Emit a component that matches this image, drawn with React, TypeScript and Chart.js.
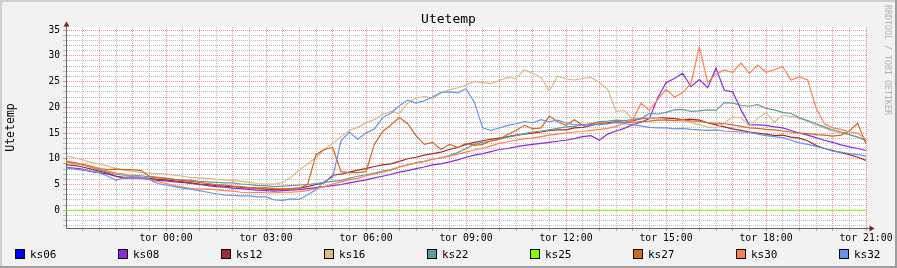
import React, { useEffect, useRef } from 'react';
import { Chart, registerables } from 'chart.js';

Chart.register(...registerables);

// ---- texts ----
const chartTitle = 'Utetemp';
const yAxisTitle = 'Utetemp';
const watermark = 'RRDTOOL / TOBI OETIKER';

// ---- series ----
const seriesNames = ['ks06', 'ks08', 'ks12', 'ks16', 'ks22', 'ks25', 'ks27', 'ks30', 'ks32'];
const seriesColors = ['#0000FF', '#8A2BE2', '#A52A2A', '#DEB887', '#5F9EA0', '#7FFF00', '#D2691E', '#FF7F50', '#6495ED'];

// samples every 15 minutes, starting ons 21:00 (hour 0) up to tor 21:00 (hour 24)
const sampleStepHours = 0.25;
const xMinHours = 0;
const xMaxHours = 24;
const xLabelHours = [3, 6, 9, 12, 15, 18, 21, 24];
const xLabelTexts = ['tor 00:00', 'tor 03:00', 'tor 06:00', 'tor 09:00', 'tor 12:00', 'tor 15:00', 'tor 18:00', 'tor 21:00'];
const yMin = -3.45;
const yMax = 35.6;
const yLabelValues = [0, 5, 10, 15, 20, 25, 30, 35];

const ks06: number[] = [];
const ks08 = [
  8.3, 8.2, 8.0, 7.5, 7.3, 7.0, 6.6, 6.2, 6.3, 6.2,
  6.0, 5.8, 5.7, 5.5, 5.4, 5.2, 5.0, 4.8, 4.6, 4.5,
  4.3, 4.2, 4.0, 3.9, 3.8, 3.7, 3.8, 3.9, 4.0, 4.2,
  4.4, 4.6, 4.8, 5.0, 5.3, 5.6, 5.9, 6.3, 6.6, 7.0,
  7.4, 7.7, 8.1, 8.4, 8.8, 9.0, 9.4, 9.8, 10.3, 10.7,
  11.0, 11.4, 11.8, 12.0, 12.3, 12.6, 12.8, 13.0, 13.2, 13.4,
  13.6, 13.9, 14.3, 14.5, 13.6, 14.8, 15.4, 15.9, 16.6, 17.1,
  17.8, 21.8, 24.8, 25.6, 26.6, 24.0, 25.4, 23.8, 27.6, 23.3,
  23.0, 19.5, 16.6, 16.6, 16.5, 16.2, 16.0, 15.5, 15.0, 14.6,
  14.1, 13.6, 13.2, 12.7, 12.3, 12.0, 11.6,
];
const ks12 = [
  8.8, 8.7, 8.4, 8.0, 7.6, 7.2, 6.6, 6.4, 6.5, 6.4,
  6.2, 6.0, 5.9, 5.7, 5.5, 5.3, 5.1, 5.0, 4.8, 4.7,
  4.6, 4.5, 4.3, 4.3, 4.1, 4.0, 4.1, 4.2, 4.3, 4.6,
  5.0, 5.3, 6.8, 7.0, 7.4, 7.8, 8.1, 8.5, 8.8, 9.0,
  9.5, 10.0, 10.3, 10.7, 11.0, 11.3, 11.8, 12.2, 12.8, 13.2,
  13.5, 13.8, 14.0, 14.3, 14.6, 14.8, 15.0, 15.2, 15.5, 15.6,
  15.6, 16.0, 16.1, 16.5, 16.8, 17.0, 17.2, 17.1, 17.4, 17.8,
  17.9, 18.0, 17.9, 17.8, 17.6, 17.7, 17.5, 17.0, 16.6, 16.2,
  15.8, 15.5, 15.2, 15.0, 14.8, 14.5, 14.6, 14.2, 14.0, 13.5,
  12.6, 12.0, 11.6, 11.2, 10.8, 10.3, 9.7,
];
const ks16 = [
  10.6, 10.2, 9.8, 9.3, 9.0, 8.6, 8.1, 7.8, 7.6, 7.3,
  7.2, 7.1, 7.0, 6.8, 6.6, 6.4, 6.3, 6.2, 6.0, 5.9,
  5.8, 5.6, 5.4, 5.2, 5.1, 5.1, 5.4, 6.4, 7.8, 9.0,
  10.3, 11.8, 13.0, 14.3, 15.5, 16.1, 17.0, 17.6, 18.6, 19.2,
  18.8, 20.8, 21.8, 22.1, 21.8, 22.8, 23.4, 23.8, 24.3, 25.0,
  24.8, 24.6, 25.2, 25.8, 25.6, 27.3, 26.6, 25.8, 23.2, 26.1,
  25.5, 25.3, 25.6, 25.8, 24.8, 23.5, 19.2, 19.4, 17.6, 18.0,
  17.9, 18.0, 17.6, 17.4, 17.3, 17.0, 16.6, 16.2, 16.0, 17.0,
  18.1, 18.0, 16.4, 17.8, 19.0, 17.1, 18.5, 18.2, 17.9, 17.3,
  16.5, 16.0, 15.3, 15.0, 14.7, 14.2, 13.6,
];
const ks22 = [
  9.4, 9.1, 8.8, 8.3, 7.8, 7.4, 7.0, 6.8, 6.8, 6.7,
  6.5, 6.3, 6.2, 6.0, 5.9, 5.8, 5.6, 5.5, 5.4, 5.3,
  5.3, 5.1, 5.0, 4.8, 4.8, 4.6, 4.7, 4.8, 4.9, 5.0,
  5.2, 5.4, 5.6, 5.8, 6.2, 6.6, 6.9, 7.2, 7.6, 7.9,
  8.4, 8.8, 9.2, 9.5, 9.9, 10.2, 10.6, 11.2, 12.0, 12.8,
  13.2, 13.4, 13.8, 14.2, 14.5, 14.9, 15.2, 15.4, 15.6, 15.9,
  16.2, 16.3, 16.6, 16.8, 17.2, 17.3, 17.5, 17.4, 17.6, 17.8,
  18.8, 18.7, 19.0, 19.5, 19.6, 19.2, 19.3, 19.5, 19.4, 20.9,
  20.8, 20.4, 20.2, 20.5, 19.8, 19.5, 19.0, 18.8, 18.0, 17.4,
  16.8, 16.2, 15.6, 15.2, 14.7, 14.2, 13.5,
];
const ks25 = [
  0, 0, 0, 0, 0, 0, 0, 0, 0, 0,
  0, 0, 0, 0, 0, 0, 0, 0, 0, 0,
  0, 0, 0, 0, 0, 0, 0, 0, 0, 0,
  0, 0, 0, 0, 0, 0, 0, 0, 0, 0,
  0, 0, 0, 0, 0, 0, 0, 0, 0, 0,
  0, 0, 0, 0, 0, 0, 0, 0, 0, 0,
  0, 0, 0, 0, 0, 0, 0, 0, 0, 0,
  0, 0, 0, 0, 0, 0, 0, 0, 0, 0,
  0, 0, 0, 0, 0, 0, 0, 0, 0, 0,
  0, 0, 0, 0, 0, 0, 0,
];
const ks27 = [
  9.4, 9.2, 8.9, 8.6, 8.1, 7.9, 8.0, 7.9, 7.9, 7.7,
  6.6, 6.4, 6.2, 6.0, 5.8, 5.6, 5.4, 5.2, 5.0, 4.9,
  4.7, 4.6, 4.4, 4.3, 4.4, 4.2, 4.1, 4.2, 4.3, 5.0,
  10.8, 11.8, 12.2, 7.5, 7.3, 7.3, 7.5, 12.8, 15.3, 16.6,
  18.0, 16.8, 14.5, 12.8, 13.2, 11.8, 12.8, 12.2, 13.0, 12.6,
  12.8, 13.5, 13.8, 14.7, 15.5, 16.5, 15.8, 16.0, 18.3, 17.2,
  16.5, 17.6, 16.5, 16.8, 17.0, 16.8, 17.2, 17.0, 17.1, 17.2,
  17.3, 17.5, 17.5, 17.4, 17.6, 17.3, 17.3, 17.0, 16.9, 16.8,
  16.6, 16.3, 16.0, 15.9, 15.7, 15.6, 15.4, 15.2, 15.0, 14.9,
  14.7, 14.6, 14.4, 14.6, 15.4, 16.9, 12.8,
];
const ks30 = [
  9.6, 9.3, 8.8, 8.4, 8.0, 7.6, 7.2, 7.0, 6.6, 6.4,
  6.0, 5.6, 5.2, 4.8, 4.5, 4.2, 4.1, 4.1, 4.0, 3.8,
  3.7, 3.5, 3.4, 3.5, 3.4, 3.4, 3.5, 3.5, 3.6, 3.8,
  4.2, 4.6, 5.1, 5.5, 5.9, 6.2, 6.7, 7.0, 7.4, 7.8,
  8.4, 8.8, 9.2, 9.5, 9.9, 10.2, 10.5, 10.9, 11.3, 11.7,
  12.0, 12.5, 13.0, 13.3, 13.6, 13.9, 14.0, 14.3, 14.6, 14.8,
  15.0, 15.2, 15.3, 15.5, 15.7, 15.9, 16.3, 16.9, 17.5, 20.8,
  19.4, 21.5, 23.5, 22.0, 22.8, 24.7, 31.8, 24.8, 26.5, 27.2,
  26.8, 28.6, 26.6, 28.2, 26.8, 27.3, 27.9, 25.3, 25.9, 25.3,
  19.9, 16.8, 16.0, 15.7, 15.2, 15.0, 13.8,
];
const ks32 = [
  8.2, 8.0, 7.8, 7.6, 7.3, 6.6, 5.8, 6.3, 6.4, 6.3,
  6.0, 5.2, 4.9, 4.6, 4.3, 4.1, 3.8, 3.5, 3.2, 3.0,
  2.9, 2.8, 2.8, 2.6, 2.6, 2.0, 1.9, 2.2, 2.1, 3.0,
  4.0, 5.6, 6.4, 13.5, 15.2, 13.8, 15.0, 15.8, 18.0, 18.9,
  20.3, 21.4, 20.8, 21.3, 22.0, 22.9, 23.0, 22.8, 23.6, 21.0,
  16.0, 15.5, 16.0, 16.5, 16.8, 17.2, 17.0, 17.6, 17.2, 17.5,
  17.0, 16.6, 16.6, 16.7, 16.6, 16.8, 17.0, 16.9, 16.6, 16.4,
  16.1, 16.0, 16.0, 15.8, 15.9, 15.7, 15.6, 15.5, 15.6, 15.4,
  15.3, 15.2, 15.1, 14.8, 14.5, 14.3, 14.1, 13.6, 13.1, 12.8,
  12.4, 12.0, 11.5, 11.3, 11.0, 10.8, 10.5,
];
const seriesValues = [ks06, ks08, ks12, ks16, ks22, ks25, ks27, ks30, ks32];

// ---- styles ----
const FONT = '"DejaVu Sans Mono", "Liberation Mono", monospace';
const MINOR = 'rgba(143,143,143,0.6)';
const MAJOR = 'rgba(222,79,79,0.6)';
const NONE = 'rgba(0,0,0,0)';

const xGrid: number[] = [];
for (let h = xMinHours; h <= xMaxHours + 1e-9; h += 0.5) xGrid.push(h);
const yGrid: number[] = [];
for (let v = Math.ceil(yMin); v <= Math.floor(yMax); v += 1) yGrid.push(v);

const rrdPlugin = {
  id: 'rrdFrame',
  beforeDraw(chart: any) {
    const { ctx, chartArea: a, width, height } = chart;
    ctx.save();
    ctx.fillStyle = '#F2F2F2';
    ctx.fillRect(0, 0, width, height);
    ctx.fillStyle = '#FFFFFF';
    ctx.fillRect(a.left, a.top, a.right - a.left, a.bottom - a.top);
    ctx.restore();
  },
  afterDraw(chart: any) {
    const { ctx, chartArea: a, width, height } = chart;
    ctx.save();
    // frame shading
    ctx.fillStyle = '#CFCFCF';
    ctx.fillRect(0, 0, width, 2);
    ctx.fillRect(0, 0, 2, height);
    ctx.fillStyle = '#9E9E9E';
    ctx.fillRect(0, height - 2, width, 2);
    ctx.fillRect(width - 2, 0, 2, height);

    // axis extensions and arrows
    ctx.strokeStyle = '#666666';
    ctx.lineWidth = 1;
    ctx.beginPath();
    ctx.moveTo(a.left + 0.5, a.top);
    ctx.lineTo(a.left + 0.5, a.top - 1);
    ctx.moveTo(a.right, a.bottom + 0.5);
    ctx.lineTo(a.right + 4, a.bottom + 0.5);
    ctx.stroke();
    ctx.fillStyle = '#801F1F';
    ctx.beginPath();
    ctx.moveTo(a.left + 0.5, a.top - 5.5);
    ctx.lineTo(a.left - 2.5, a.top - 0.5);
    ctx.lineTo(a.left + 3.5, a.top - 0.5);
    ctx.closePath();
    ctx.fill();
    ctx.beginPath();
    ctx.moveTo(a.right + 8.5, a.bottom + 0.5);
    ctx.lineTo(a.right + 3.5, a.bottom - 2.5);
    ctx.lineTo(a.right + 3.5, a.bottom + 3.5);
    ctx.closePath();
    ctx.fill();

    // title
    ctx.fillStyle = '#000000';
    ctx.font = `13px ${FONT}`;
    ctx.textAlign = 'center';
    ctx.textBaseline = 'alphabetic';
    ctx.fillText(chartTitle, width / 2, 23);

    // y axis title
    ctx.save();
    ctx.translate(11, (a.top + a.bottom) / 2);
    ctx.rotate(-Math.PI / 2);
    ctx.font = `11.5px ${FONT}`;
    ctx.textAlign = 'center';
    ctx.textBaseline = 'middle';
    ctx.fillText(yAxisTitle, 0, 0);
    ctx.restore();

    // watermark
    ctx.save();
    ctx.translate(887.5, 5);
    ctx.rotate(Math.PI / 2);
    ctx.font = `8.3px ${FONT}`;
    ctx.fillStyle = '#B0B0B0';
    ctx.textAlign = 'left';
    ctx.textBaseline = 'middle';
    ctx.fillText(watermark, 0, 0);
    ctx.restore();

    // legend
    ctx.font = `11px ${FONT}`;
    ctx.textAlign = 'left';
    ctx.textBaseline = 'alphabetic';
    chart.data.datasets.forEach((ds: any, i: number) => {
      const x = 15 + 103 * i;
      ctx.fillStyle = ds.borderColor;
      ctx.fillRect(x, 249, 10, 10);
      ctx.strokeStyle = '#000000';
      ctx.lineWidth = 1;
      ctx.strokeRect(x + 0.5, 249.5, 9, 9);
      ctx.fillStyle = '#000000';
      ctx.fillText(ds.label, x + 15, 258);
    });
    ctx.restore();
  },
};

export default function App() {
  const ref = useRef<HTMLCanvasElement>(null);
  useEffect(() => {
    if (!ref.current) return;
    const chart = new Chart(ref.current, {
      type: 'line',
      data: {
        datasets: seriesNames.map((name, k) => ({
          label: name,
          data: seriesValues[k].map((v, i) => ({ x: xMinHours + i * sampleStepHours, y: v })),
          borderColor: seriesColors[k],
          backgroundColor: seriesColors[k],
          borderWidth: 1.2,
          pointRadius: 0,
          tension: 0,
          fill: false,
          order: seriesNames.length - k,
        })),
      },
      options: {
        animation: false,
        responsive: false,
        maintainAspectRatio: false,
        devicePixelRatio: 1,
        events: [],
        layout: { padding: { top: 27, right: 31, left: 0, bottom: 0 } },
        plugins: {
          legend: { display: false },
          title: { display: false },
          tooltip: { enabled: false },
        },
        scales: {
          x: {
            type: 'linear',
            min: xMinHours,
            max: xMaxHours,
            afterBuildTicks: (s: any) => {
              s.ticks = xGrid.map((v) => ({ value: v }));
            },
            afterFit: (s: any) => {
              s.height = 40;
            },
            ticks: {
              autoSkip: false,
              maxRotation: 0,
              minRotation: 0,
              padding: 1.5,
              color: '#000000',
              font: { family: FONT, size: 9.8 },
              callback: (v: any) => {
                const k = xLabelHours.indexOf(Number(v));
                return k >= 0 ? xLabelTexts[k] : '';
              },
            },
            grid: {
              color: (c: any) => {
                const v = c.tick ? c.tick.value : undefined;
                if (v === undefined || v <= 0) return NONE;
                return Number.isInteger(v) ? MAJOR : MINOR;
              },
              tickColor: (c: any) => {
                const v = c.tick ? c.tick.value : undefined;
                if (v === undefined || v <= 0) return NONE;
                return Number.isInteger(v) ? MAJOR : MINOR;
              },
              tickLength: 3,
              lineWidth: 1,
            },
            border: { display: true, color: '#666666', width: 1, dash: [1, 1] },
          },
          y: {
            type: 'linear',
            min: yMin,
            max: yMax,
            afterBuildTicks: (s: any) => {
              s.ticks = yGrid.map((v) => ({ value: v }));
            },
            afterFit: (s: any) => {
              s.width = 66;
            },
            ticks: {
              autoSkip: false,
              padding: 3,
              color: '#000000',
              font: { family: FONT, size: 9.6 },
              callback: (v: any) => (yLabelValues.indexOf(Number(v)) >= 0 ? String(v) : ''),
            },
            grid: {
              color: (c: any) => {
                const v = c.tick ? c.tick.value : undefined;
                if (v === undefined) return NONE;
                return v % 5 === 0 ? MAJOR : MINOR;
              },
              tickColor: (c: any) => {
                const v = c.tick ? c.tick.value : undefined;
                if (v === undefined) return NONE;
                return v % 5 === 0 ? MAJOR : MINOR;
              },
              tickLength: 3,
              lineWidth: 1,
            },
            border: { display: true, color: '#666666', width: 1, dash: [1, 1] },
          },
        },
      },
      plugins: [rrdPlugin],
    } as any);
    return () => chart.destroy();
  }, []);
  return (
    <div style={{ position: 'absolute', left: 0, top: 0, width: 897, height: 268 }}>
      <canvas ref={ref} width={897} height={268} style={{ display: 'block', width: 897, height: 268 }} />
    </div>
  );
}
